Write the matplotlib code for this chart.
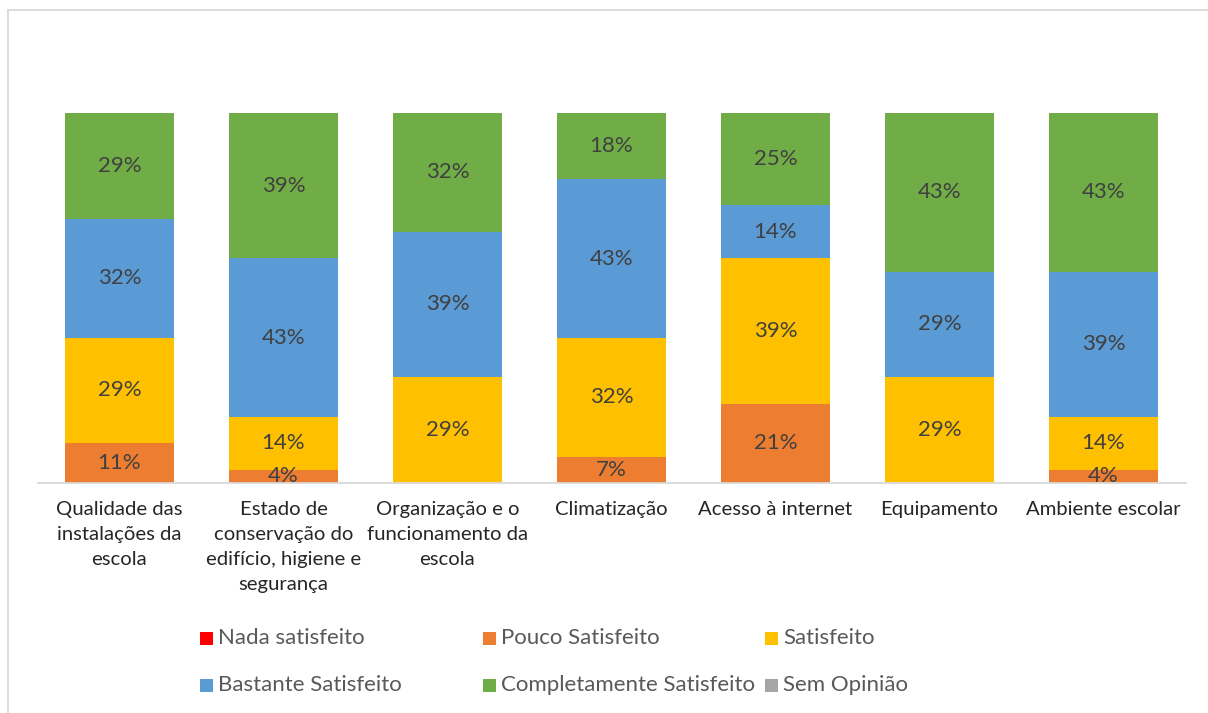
import matplotlib
matplotlib.use("Agg")
import matplotlib.pyplot as plt
import numpy as np
from matplotlib.patches import Rectangle
from matplotlib.lines import Line2D

plt.rcParams['font.family'] = ['Lato', 'DejaVu Sans']

categories = ["Qualidade das\ninstalações da\nescola",
              "Estado de\nconservação do\nedifício, higiene e\nsegurança",
              "Organização e o\nfuncionamento da\nescola",
              "Climatização", "Acesso à internet", "Equipamento", "Ambiente escolar"]
series_names = ["Nada satisfeito", "Pouco Satisfeito", "Satisfeito",
                "Bastante Satisfeito", "Completamente Satisfeito", "Sem Opinião"]
nada = [0, 0, 0, 0, 0, 0, 0]
pouco = [10.7, 3.6, 0, 7.1, 21.4, 0, 3.6]
satisfeito = [28.6, 14.3, 28.6, 32.1, 39.3, 28.6, 14.3]
bastante = [32.1, 42.9, 39.3, 42.9, 14.3, 28.6, 39.3]
completamente = [28.6, 39.3, 32.1, 17.9, 25.0, 42.9, 42.9]
sem_opiniao = [0, 0, 0, 0, 0, 0, 0]
colors = ["#FF0000", "#ED7D31", "#FFC000", "#5B9BD5", "#70AD47", "#A5A5A5"]

series = [nada, pouco, satisfeito, bastante, completamente, sem_opiniao]

W, H = 1208, 713
fig = plt.figure(figsize=(W/100, H/100), dpi=100)
ax = fig.add_axes([37.5/W, 1-483/H, 1148/W, 370/H])

x = np.arange(len(categories))
totals = np.sum(np.array(series, dtype=float), axis=0)
bottom = np.zeros(len(categories))
for vals, col in zip(series, colors):
    v = np.array(vals, dtype=float) / totals
    ax.bar(x, v, 0.665, bottom=bottom, color=col, linewidth=0)
    for xi, vi, bi, raw in zip(x, v, bottom, vals):
        if raw > 0:
            ax.text(xi, bi + vi/2, f"{round(raw)}%", ha='center', va='center',
                    fontsize=16, color='#404040')
    bottom += v

ax.set_xlim(-0.5, len(categories) - 0.5)
ax.set_ylim(0, 1)
for s in ['top', 'right', 'left']:
    ax.spines[s].set_visible(False)
ax.spines['bottom'].set_color('#D9D9D9')
ax.spines['bottom'].set_linewidth(1.3)
ax.set_yticks([])
ax.set_xticks(x)
ax.set_xticklabels(categories, fontsize=14.6, color='#262626', linespacing=1.58, va='top')
ax.tick_params(axis='x', length=0, pad=13)

# legend: equal-width columns, row-major, drawn in figure pixels
leg_x = [200, 483, 765]
leg_y = [638, 685]
sq = 13
for i, (name, col) in enumerate(zip(series_names, colors)):
    r, c = divmod(i, 3)
    x0, yc = leg_x[c], leg_y[r]
    fig.add_artist(Rectangle((x0/W, 1-(yc+sq/2)/H), sq/W, sq/H, facecolor=col,
                             edgecolor='none', transform=fig.transFigure))
    fig.text((x0+sq+5)/W, 1-yc/H, name, ha='left', va='center', fontsize=16,
             color='#595959')

# outer chart border
fig.add_artist(Line2D([8/W, 1.0], [1-10/H, 1-10/H], color='#D9D9D9', lw=1.3,
                      transform=fig.transFigure))
fig.add_artist(Line2D([8/W, 8/W], [0, 1-10/H], color='#D9D9D9', lw=1.3,
                      transform=fig.transFigure))

fig.savefig("out.png", dpi=100, facecolor='white')
